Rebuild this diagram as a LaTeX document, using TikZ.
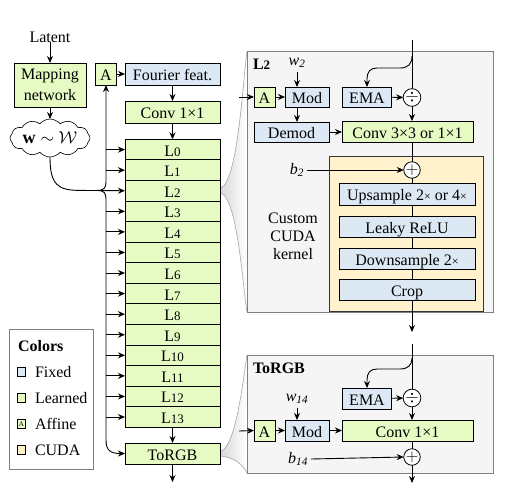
\documentclass[tikz,border=0pt]{standalone}
\usepackage{fontspec}
\setmainfont{Liberation Serif}
\usetikzlibrary{arrows.meta,shapes.symbols,calc}
\definecolor{fixedc}{RGB}{220,233,245}
\definecolor{learnc}{RGB}{230,250,195}
\definecolor{cudac}{RGB}{255,242,204}
\definecolor{panelc}{RGB}{245,245,245}
\definecolor{panelb}{RGB}{128,128,128}
\begin{document}
\begin{tikzpicture}[x=1pt,y=-1pt,
  font=\fontsize{16}{19}\selectfont,
  every node/.style={inner sep=0pt, outer sep=0pt},
  box/.style={draw, line width=0.8pt, text height=14.5pt, text depth=1.5pt},
  gbox/.style={box, fill=learnc},
  bbox/.style={box, fill=fixedc},
  arr/.style={-{Stealth[length=7pt,width=6pt]}, line width=0.9pt},
  ln/.style={line width=0.9pt},
  opc/.style={circle, draw, fill=white, line width=0.8pt, minimum size=15pt},
  funnel/.style={draw=gray!70, line width=0.6pt},
  panel/.style={draw=panelb, fill=panelc, line width=0.8pt},
  lab/.style={font=\fontsize{16}{19}\selectfont\itshape},
  legsq/.style={draw, line width=0.6pt, minimum size=8.5pt},
]
\useasboundingbox (0,0) rectangle (505,493);

% ---------------- funnels ----------------
\shade[left color=gray!30, right color=white]
  (221,188) .. controls (238,180) and (243,80) .. (247,51) -- (247,312)
  .. controls (243,290) and (238,200) .. (221,193) -- cycle;
\draw[funnel] (221,188) .. controls (238,180) and (243,80) .. (247,51);
\draw[funnel] (221,193) .. controls (238,200) and (243,290) .. (247,312);
\shade[left color=gray!30, right color=white]
  (221,451) .. controls (236,446) and (243,380) .. (247,355) -- (247,473)
  .. controls (243,465) and (236,458) .. (221,456) -- cycle;
\draw[funnel] (221,451) .. controls (236,446) and (243,380) .. (247,355);
\draw[funnel] (221,456) .. controls (236,458) and (243,465) .. (247,473);

% ---------------- left column ----------------
\node (latent) at (50,37) {Latent};
\node[draw, fill=learnc, line width=0.8pt, minimum width=72pt, minimum height=44pt,
      align=center, font=\fontsize{16}{21}\selectfont] (map) at (50,85) {Mapping\\network};
\node[cloud, draw, fill=white, cloud puffs=12, cloud puff arc=100, aspect=2.6,
      minimum width=80pt, minimum height=35pt, line width=0.6pt,
      font=\fontsize{18}{20}\selectfont] (cloud) at (50,138)
      {$\mathbf{w}\sim\mathcal{W}$};
\node[gbox, minimum width=21pt, minimum height=22pt] (A1) at (106,74) {A};
\node[bbox, minimum width=95pt, minimum height=22pt] (fourier) at (172.5,74) {Fourier feat.};
\node[gbox, minimum width=95pt, minimum height=22pt] (conv1) at (172.5,112) {Conv 1×1};
\foreach \i in {0,...,13} {
  \pgfmathsetmacro\yc{149.6+20.57*\i}
  \node[gbox, minimum width=95pt, minimum height=20.57pt] (L\i) at (172.5,\yc)
    {L{\fontsize{13}{13}\selectfont\i}};
}
\node[gbox, minimum width=95pt, minimum height=21pt] (torgb) at (172.5,453.5) {ToRGB};
\coordinate (trunk) at (106,0);
\coordinate (jn) at (97,190.4);
\coordinate (outg) at (172.5,482);

\draw[arr] (latent) -- (map);
\draw[arr] (map) -- (cloud);
\draw[arr] (A1) -- (fourier);
\draw[arr] (fourier) -- (conv1);
\draw[arr] (conv1) -- (L0);
\draw[arr] (L13) -- (torgb);
\draw[arr] (torgb) -- (outg);
\draw[arr] (cloud.south) .. controls (50,185) and (58,190.4) .. (80,190.4) -- (L2.west);
\draw[arr] (jn) .. controls (104,190.4) and (106,188) .. (106,182) -- (A1.south);
\draw[arr] (jn) .. controls (104,190.4) and (106,193) .. (106,199) -- (106,440)
  .. controls (106,450) and (110,453.5) .. (torgb.west);
\foreach \i in {0,1,3,4,5,6,7,8,9,10,11,12,13} {
  \draw[arr] (trunk |- L\i.west) -- (L\i.west);
}

% ---------------- legend ----------------
\draw[draw=gray, line width=0.8pt] (9.5,329) rectangle (93,469);
\node[anchor=west, font=\fontsize{16}{19}\selectfont\bfseries] (legt) at (18,346) {Colors};
\node[legsq, fill=fixedc] (lq1) at (21.5,372) {};
\node[anchor=west] (lt1) at (35,372) {Fixed};
\node[legsq, fill=learnc] (lq2) at (21.5,398) {};
\node[anchor=west] (lt2) at (35,398) {Learned};
\node[legsq, fill=learnc, font=\fontsize{7}{7}\selectfont] (lq3) at (21.5,424) {A};
\node[anchor=west] (lt3) at (35,424) {Affine};
\node[legsq, fill=cudac] (lq4) at (21.5,450) {};
\node[anchor=west] (lt4) at (35,450) {CUDA};

% ---------------- L2 panel ----------------
\draw[panel] (247,51) rectangle (493,312);
\node[anchor=west, font=\fontsize{16}{19}\selectfont\bfseries] (t2) at (253,64)
  {L{\fontsize{13}{13}\selectfont 2}};
\node[draw=black!80, fill=cudac, line width=0.8pt, minimum width=154pt, minimum height=155pt]
  (cuda) at (406,233.5) {};
\node[align=center, font=\fontsize{16}{18}\selectfont] (ck) at (293,236) {Custom\\CUDA\\kernel};
\node[lab] (w2) at (297,63) {w\textsubscript{2}};
\node[gbox, minimum width=21pt, minimum height=20pt] (A2) at (264.5,97) {A};
\node[bbox, minimum width=44pt, minimum height=20pt] (mod2) at (307,97) {Mod};
\node[bbox, minimum width=49pt, minimum height=20pt] (ema2) at (367,97) {EMA};
\node[opc] (div2) at (412,97.5) {$\div$};
\node[bbox, minimum width=75pt, minimum height=20pt] (demod) at (291.5,132) {Demod};
\node[gbox, minimum width=131pt, minimum height=21pt] (conv2) at (407.5,131.5) {Conv 3×3 or 1×1};
\node[opc] (plus2) at (412,170) {$+$};
\node[lab] (b2) at (297,170) {b\textsubscript{2}};
\node[bbox, minimum width=136pt, minimum height=22pt] (up) at (407,194)
  {Upsample 2{\fontsize{12}{12}\selectfont×} or 4{\fontsize{12}{12}\selectfont×}};
\node[bbox, minimum width=136pt, minimum height=21pt] (leaky) at (407,226.5) {Leaky ReLU};
\node[bbox, minimum width=136pt, minimum height=21pt] (down) at (407,258.5)
  {Downsample 2{\fontsize{12}{12}\selectfont×}};
\node[bbox, minimum width=136pt, minimum height=21pt] (crop) at (407,289.5) {Crop};
\coordinate (top2) at (412,40);
\coordinate (br2) at (412,56);
\coordinate (in2) at (239,97);
\coordinate (out2) at (412,332);

\draw[ln] (top2) -- (div2.north);
\draw[arr] (br2) .. controls (412,64) and (408,68) .. (400,68) -- (377,68)
  .. controls (370,68) and (367,72) .. (367,79) -- (ema2.north);
\draw[arr] (in2) -- (A2.west);
\draw[arr] (A2) -- (mod2);
\draw[arr] (w2.south |- 0,72) -- (w2.south |- mod2.north);
\draw[arr] (w2.south |- mod2.south) -- (w2.south |- demod.north);
\draw[arr] (ema2) -- (div2);
\draw[arr] (div2) -- (div2 |- conv2.north);
\draw[arr] (demod) -- (demod -| conv2.west);
\draw[ln] (div2 |- conv2.south) -- (plus2.north);
\draw[arr] (b2.east) ++(3,0) -- (plus2.west);
\draw[ln] (plus2.south) -- (div2 |- up.north);
\draw[ln] (div2 |- up.south) -- (div2 |- leaky.north);
\draw[ln] (div2 |- leaky.south) -- (div2 |- down.north);
\draw[ln] (div2 |- down.south) -- (div2 |- crop.north);
\draw[arr] (div2 |- crop.south) -- (out2);

% ---------------- ToRGB panel ----------------
\draw[panel] (247,355) rectangle (493,473);
\node[anchor=west, font=\fontsize{16}{19}\selectfont\bfseries] (t3) at (253,368) {ToRGB};
\node[lab] (w14) at (297,399) {w\textsubscript{14}};
\node[bbox, minimum width=49pt, minimum height=21pt] (ema3) at (367,398.5) {EMA};
\node[opc] (div3) at (412,398) {$\div$};
\node[gbox, minimum width=21pt, minimum height=21pt] (A3) at (264.5,430.5) {A};
\node[bbox, minimum width=44pt, minimum height=21pt] (mod3) at (307,430.5) {Mod};
\node[gbox, minimum width=131pt, minimum height=21pt] (conv3) at (407.5,430.5) {Conv 1×1};
\node[opc] (plus3) at (412,457) {$+$};
\node[lab] (b14) at (298,459) {b\textsubscript{14}};
\coordinate (top3) at (412,344);
\coordinate (br3) at (412,358);
\coordinate (in3) at (239,431);
\coordinate (out3) at (412,483);

\draw[ln] (top3) -- (div3.north);
\draw[arr] (br3) .. controls (412,365) and (408,369) .. (400,369) -- (377,369)
  .. controls (370,369) and (367,373) .. (367,380) -- (ema3.north);
\draw[arr] (ema3) -- (div3);
\draw[arr] (div3) -- (div3 |- conv3.north);
\draw[arr] (in3) -- (A3.west);
\draw[arr] (A3) -- (mod3);
\draw[arr] (mod3) -- (conv3);
\draw[arr] (w14.south |- 0,407.5) -- (w14.south |- mod3.north);
\draw[ln] (div3 |- conv3.south) -- (plus3.north);
\draw[arr] (b14.east) ++(3,0) -- (plus3.west);
\draw[arr] (plus3.south) -- (out3);
\end{tikzpicture}
\end{document}
